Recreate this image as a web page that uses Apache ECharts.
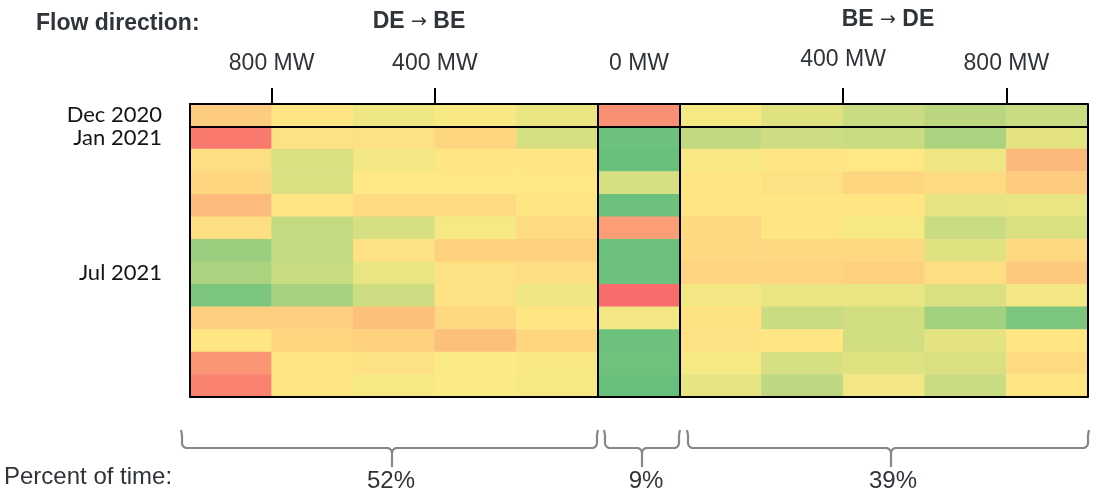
<!DOCTYPE html>
<html>
<head>
<meta charset="utf-8">
<script src="https://cdn.jsdelivr.net/npm/echarts@6/dist/echarts.min.js"></script>
<style>
  html, body { margin: 0; padding: 0; background: #fff; }
  #chart { width: 1101px; height: 494px; }
</style>
</head>
<body>
<div id="chart"></div>
<script>
    // rows, top to bottom
    var months = ['Dec 2020', 'Jan 2021', 'Feb 2021', 'Mar 2021', 'Apr 2021', 'May 2021', 'Jun 2021',
        'Jul 2021', 'Aug 2021', 'Sep 2021', 'Oct 2021', 'Nov 2021', 'Dec 2021'];
    var shownMonths = ['Dec 2020', 'Jan 2021', 'Jul 2021'];

    // flow bins, left to right
    var bins = ['DE>BE >800', 'DE>BE 800-600', 'DE>BE 600-400', 'DE>BE 400-200', 'DE>BE 200-0',
        '0', 'BE>DE 0-200', 'BE>DE 200-400', 'BE>DE 400-600', 'BE>DE 600-800', 'BE>DE >800'];

    // top axis ticks / labels (position in bin units)
    var tickPos = [1, 3, 8, 10];
    var labelPos = [1, 3, 5.5, 8, 10];
    var labelText = ['800 MW', '400 MW', '0 MW', '400 MW', '800 MW'];

    // colour score per cell: 0 = red, 50 = yellow, 100 = green
    var deToBe = [
        [38, 48, 56, 52, 57],
        [6, 46, 46, 42, 63],
        [45, 62, 54, 48, 48],
        [42, 62, 49, 49, 49],
        [31, 48, 44, 44, 48],
        [45, 69, 63, 53, 44],
        [82, 69, 46, 40, 40],
        [77, 68, 57, 46, 45],
        [92, 78, 66, 46, 55],
        [39, 39, 33, 43, 48],
        [48, 42, 40, 33, 42],
        [17, 48, 46, 51, 52],
        [10, 48, 53, 51, 53]
    ];
    var zeroFlow = [15, 97, 98, 63, 97, 20, 97, 97, 1, 54, 97, 96, 99];
    var beToDe = [
        [53, 60, 67, 72, 67],
        [70, 66, 67, 77, 59],
        [52, 48, 49, 55, 30],
        [48, 46, 42, 44, 38],
        [48, 48, 48, 58, 57],
        [43, 48, 53, 67, 62],
        [43, 43, 43, 60, 43],
        [41, 41, 40, 45, 37],
        [54, 57, 57, 62, 54],
        [47, 67, 65, 80, 92],
        [46, 48, 65, 59, 48],
        [53, 63, 60, 62, 44],
        [58, 71, 54, 67, 48]
    ];

    var percentLabels = ['52%', '9%', '39%'];

    var cells = [];
    months.forEach(function(m, r) {
        var row = deToBe[r].concat([zeroFlow[r]], beToDe[r]);
        row.forEach(function(v, c) {
            cells.push([c, r, v]);
        });
    });

    var textColor = '#2f3439';
    var font = '"Liberation Sans", Arial, sans-serif';

    // quarter arc points around (cx, cy), angles in degrees
    function arc(cx, cy, r, a0, a1) {
        var pts = [];
        for (var k = 0; k <= 6; k++) {
            var a = (a0 + (a1 - a0) * k / 6) * Math.PI / 180;
            pts.push([cx + r * Math.cos(a), cy + r * Math.sin(a)]);
        }
        return pts;
    }

    var braceStyle = { stroke: '#888', lineWidth: 2.2, fill: null };

    function brace(x1, xm, x2) {
        var y0 = 430, y1 = 448, y2 = 467, r = 5;
        var left = [[x1 - 1, y0], [x1, y0 + 5]]
            .concat(arc(x1 + r, y1 - r, r, 180, 90))
            .concat(arc(xm - r, y1 + r, r, 270, 360))
            .concat([[xm, y2]]);
        var right = arc(xm + r, y1 + r, r, 180, 270)
            .concat(arc(x2 - r, y1 - r, r, 90, 0))
            .concat([[x2, y0 + 5], [x2 + 1, y0]]);
        return [
            { type: 'polyline', shape: { points: left }, style: braceStyle },
            { type: 'polyline', shape: { points: right }, style: braceStyle }
        ];
    }

    function label(text, x, y, size, bold, align) {
        return {
            type: 'text',
            style: {
                text: text, x: x, y: y,
                font: (bold ? 'bold ' : '') + size + 'px ' + font,
                fill: textColor,
                align: align || 'center',
                verticalAlign: 'middle'
            }
        };
    }

    function heading(from, to, x, y) {
        var base = { fontSize: 23, fontWeight: 'bold', fontFamily: font, fill: textColor };
        return {
            type: 'text',
            style: {
                text: '{b|' + from + ' }{a|\u2192}{b| ' + to + '}',
                x: x, y: y,
                align: 'center',
                verticalAlign: 'middle',
                rich: {
                    b: base,
                    a: { fontSize: 19, fontFamily: '"DejaVu Sans", sans-serif', fill: textColor }
                }
            }
        };
    }

    var option = {
        animation: false,
        grid: { left: 190, right: 13, top: 104, bottom: 97 },
        visualMap: {
            show: false,
            min: 0,
            max: 100,
            dimension: 2,
            inRange: { color: ['#F8696B', '#FFEB84', '#63BE7B'] }
        },
        xAxis: [{
            type: 'category',
            data: bins,
            position: 'bottom',
            z: 10,
            axisLine: { show: true, lineStyle: { color: '#000', width: 2 } },
            axisTick: { show: false },
            axisLabel: { show: false },
            splitLine: {
                show: true,
                interval: function(i) { return i === 5 || i === 6; },
                lineStyle: { color: '#000', width: 2 }
            }
        }, {
            type: 'value',
            position: 'top',
            min: 0,
            max: 11,
            z: 10,
            axisLine: { show: true, lineStyle: { color: '#000', width: 2 } },
            axisTick: {
                show: true,
                customValues: tickPos,
                length: 16,
                lineStyle: { color: '#000', width: 2 }
            },
            axisLabel: {
                customValues: labelPos,
                margin: 29,
                fontSize: 23,
                fontFamily: font,
                color: textColor,
                formatter: function(v) {
                    var i = labelPos.indexOf(v);
                    if (i === 3) return '{up|' + labelText[i] + '}';
                    return labelText[i];
                },
                rich: {
                    up: { fontSize: 23, fontFamily: font, color: textColor, padding: [0, 0, 4, 0] }
                }
            },
            splitLine: { show: false }
        }],
        yAxis: [{
            type: 'category',
            data: months,
            inverse: true,
            z: 10,
            axisLine: { show: true, lineStyle: { color: '#000', width: 2 } },
            axisTick: { show: false },
            axisLabel: {
                interval: 0,
                margin: 28,
                fontSize: 22,
                fontFamily: 'Lato, sans-serif',
                color: '#151515',
                formatter: function(v) { return shownMonths.indexOf(v) >= 0 ? v : ''; }
            },
            splitLine: {
                show: true,
                interval: function(i) { return i === 0 || i === 1; },
                lineStyle: { color: '#000', width: 2 }
            }
        }],
        series: [{
            type: 'heatmap',
            xAxisIndex: 0,
            yAxisIndex: 0,
            data: cells,
            itemStyle: { borderWidth: 0 },
            emphasis: { disabled: true }
        }],
        graphic: [
            label('Flow direction:', 36, 24, 23, true, 'left'),
            heading('DE', 'BE', 419, 22),
            heading('BE', 'DE', 888, 20),
            label('Percent of time:', 4, 477, 24, false, 'left'),
            label(percentLabels[0], 391, 481, 24, false),
            label(percentLabels[1], 646, 481, 24, false),
            label(percentLabels[2], 893, 481, 24, false)
        ].concat(brace(182, 392, 597), brace(605, 642, 679), brace(688, 891, 1088))
    };

    var chart = echarts.init(document.getElementById('chart'));
    chart.setOption(option);
</script>
</body>
</html>
